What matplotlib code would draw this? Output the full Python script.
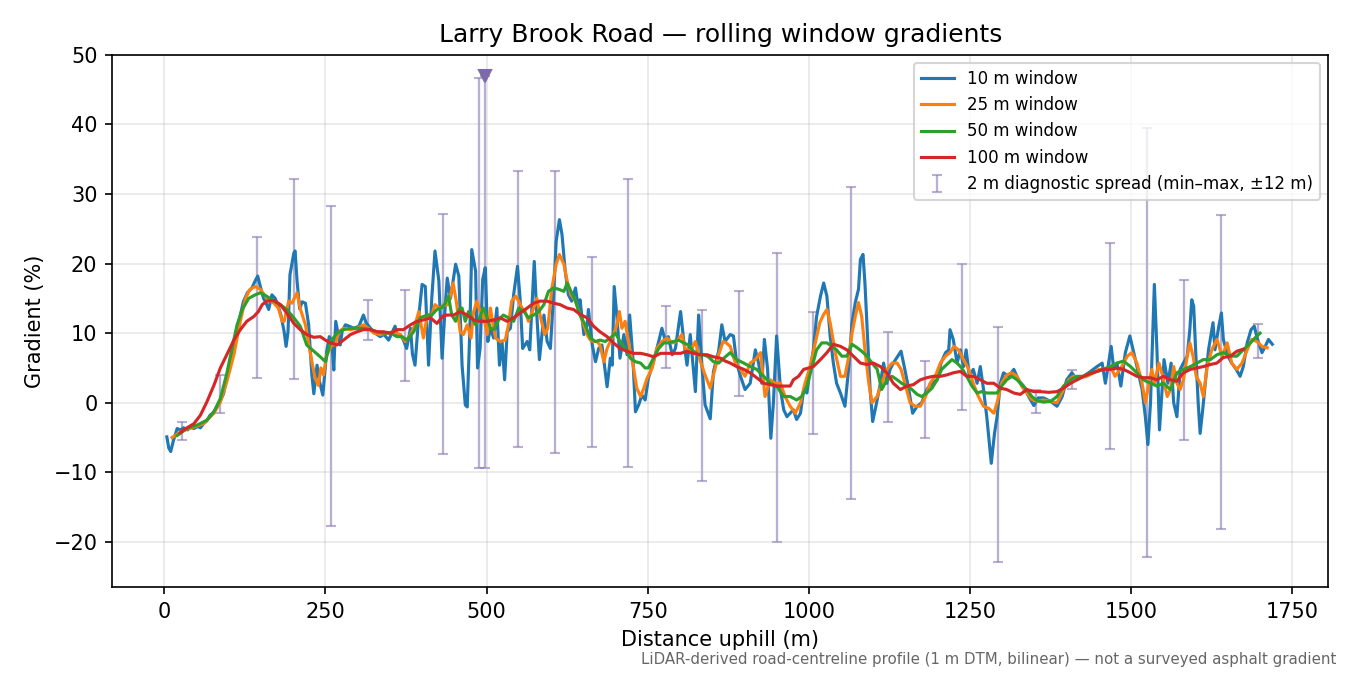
import numpy as np
import matplotlib
matplotlib.use('Agg')
import matplotlib.pyplot as plt

# 10 m window (distance m, gradient %)
w10_x = [4, 7, 10, 14, 20, 25, 30, 36, 41, 46, 52, 56, 61, 66, 71, 76, 82, 87, 92, 97,
         102, 108, 113, 118, 123, 129, 136, 141, 145, 149, 154, 158, 162, 167, 172, 176, 181, 186, 189, 192,
         195, 201, 203, 206, 210, 214, 219, 224, 229, 232, 237, 241, 246, 252, 256, 260, 263, 266, 273, 276,
         281, 287, 294, 302, 309, 313, 320, 327, 335, 341, 348, 353, 358, 362, 366, 371, 376, 382, 385, 389,
         395, 400, 405, 410, 415, 420, 426, 431, 436, 439, 444, 452, 457, 462, 467, 470, 474, 477, 483, 486,
         490, 494, 498, 502, 506, 511, 516, 520, 524, 528, 532, 537, 542, 548, 552, 556, 563, 567, 574, 578,
         582, 589, 594, 599, 604, 608, 613, 617, 622, 627, 632, 638, 643, 645, 651, 656, 658, 664, 669, 674,
         679, 687, 692, 695, 698, 702, 707, 713, 718, 722, 727, 731, 736, 741, 746, 751, 759, 767, 772, 777,
         782, 788, 793, 801, 806, 811, 816, 824, 829, 834, 839, 847, 852, 860, 865, 870, 878, 883, 888, 894,
         901, 909, 917, 922, 927, 931, 936, 941, 945, 950, 956, 961, 966, 971, 976, 981, 987, 992, 997, 1002,
         1007, 1012, 1018, 1023, 1028, 1033, 1038, 1043, 1049, 1056, 1062, 1067, 1072, 1077, 1080, 1084, 1087, 1091, 1095, 1099,
         1104, 1111, 1116, 1121, 1126, 1131, 1138, 1143, 1148, 1155, 1161, 1168, 1175, 1183, 1191, 1199, 1205, 1212, 1217, 1219,
         1224, 1230, 1235, 1240, 1244, 1249, 1255, 1261, 1266, 1271, 1276, 1280, 1283, 1288, 1292, 1297, 1302, 1310, 1318, 1325,
         1333, 1341, 1349, 1356, 1364, 1375, 1385, 1393, 1400, 1408, 1416, 1426, 1437, 1447, 1455, 1460, 1465, 1469, 1473, 1478,
         1484, 1491, 1498, 1504, 1510, 1517, 1522, 1526, 1530, 1533, 1536, 1540, 1544, 1548, 1551, 1557, 1562, 1566, 1571, 1576,
         1581, 1587, 1591, 1594, 1597, 1600, 1604, 1607, 1611, 1616, 1620, 1627, 1630, 1636, 1640, 1643, 1650, 1656, 1663, 1669,
         1674, 1680, 1686, 1691, 1696, 1703, 1708, 1713, 1719]
w10_y = [-4.9, -6.5, -7.0, -5.5, -3.7, -3.9, -3.6, -3.9, -3.5, -3.7, -3.4, -3.6, -3.0, -2.6, -1.8, -1.4, -0.6, 0.3, 1.3, 3.5,
         5.9, 7.8, 10.2, 12.6, 14.6, 15.8, 16.5, 17.5, 18.2, 16.7, 15.0, 14.3, 13.4, 15.5, 15.0, 14.1, 12.6, 10.2, 8.1, 10.2,
         18.4, 21.5, 21.8, 17.5, 13.5, 14.5, 14.3, 11.2, 4.0, 1.3, 5.4, 3.0, 1.1, 7.4, 9.5, 8.8, 4.7, 11.7, 8.3, 10.3,
         11.2, 11.0, 10.7, 11.0, 12.6, 11.5, 10.7, 10.0, 9.5, 9.8, 9.0, 10.0, 11.0, 9.5, 9.8, 9.0, 7.8, 10.7, 7.0, 5.4,
         12.6, 17.0, 16.7, 5.4, 15.0, 21.8, 17.5, 6.4, 14.1, 17.9, 15.0, 19.9, 18.2, 5.4, -0.3, -0.6, 10.2, 22.0, 18.9, 5.0,
         7.8, 17.7, 19.4, 8.8, 10.7, 9.3, 13.6, 5.4, 8.8, 3.3, 10.2, 10.7, 15.5, 19.6, 15.0, 7.8, 8.8, 7.6, 20.3, 12.6,
         6.2, 12.6, 8.8, 7.8, 15.5, 23.2, 26.3, 24.2, 18.9, 15.5, 14.6, 16.5, 13.1, 14.8, 9.8, 11.2, 13.4, 8.3, 5.9, 7.8,
         8.3, 2.3, 6.4, 5.4, 16.7, 12.6, 6.4, 9.8, 6.9, 12.6, 6.4, -1.3, -0.3, 1.1, 0.4, 3.5, 5.9, 8.8, 10.7, 9.0,
         9.5, 6.9, 7.8, 13.1, 8.8, 5.4, 9.8, 1.6, 12.6, 5.4, -0.3, -2.3, 4.5, 7.4, 11.2, 8.8, 9.8, 9.6, 5.7, 3.8,
         1.9, 2.8, 7.6, 5.7, 2.8, 9.1, 4.8, -5.1, 0.0, 9.6, 1.9, -1.0, -2.0, -1.5, -1.0, -2.4, -1.5, 1.9, 1.4, 4.8,
         7.6, 12.4, 15.3, 17.2, 15.3, 9.6, 5.7, 2.8, 1.4, -0.5, 5.2, 11.5, 14.4, 16.3, 20.6, 21.3, 17.2, 9.6, 1.9, -2.7,
         -0.5, 2.8, 5.7, 2.8, 4.8, 5.7, 6.7, 7.4, 5.2, 1.9, -1.5, -0.5, 0.0, 1.9, 2.8, 3.3, 5.7, 7.2, 7.6, 10.5,
         9.1, 5.7, 7.6, 5.2, 7.6, 3.8, 4.8, 2.8, 5.2, 1.9, -2.0, -5.8, -8.7, -4.4, -2.0, 2.8, 4.3, 3.8, 4.8, 3.3,
         2.4, 0.9, -0.4, 0.7, 0.7, 0.2, -0.5, 0.9, 3.3, 4.3, 3.3, 3.8, 4.5, 5.2, 5.7, 2.8, 5.7, 8.1, 4.8, 5.7,
         2.4, 7.2, 9.6, 7.2, 4.8, 1.9, -2.0, -6.0, 0.0, 8.6, 17.0, 7.6, -3.9, 1.9, 6.2, 2.8, 5.7, 0.0, -2.0, 4.8,
         5.7, 6.7, 10.5, 14.8, 13.9, 7.6, 0.0, -4.4, -1.0, 3.8, 7.6, 11.5, 7.6, 11.0, 12.9, 9.1, 6.7, 5.7, 4.8, 3.8,
         5.2, 8.6, 10.5, 11.0, 9.1, 7.2, 8.1, 9.1, 8.4]

# 25 m window
w25_x = [12, 25, 35, 46, 61, 77, 87, 97, 108, 118, 126, 133, 141, 149, 159, 170, 177, 183, 186, 193,
         198, 206, 211, 219, 227, 234, 239, 243, 247, 252, 260, 265, 271, 278, 289, 299, 309, 317, 325, 335,
         345, 356, 366, 374, 382, 389, 395, 402, 408, 415, 420, 428, 433, 441, 448, 453, 459, 464, 470, 476,
         480, 485, 490, 495, 501, 506, 510, 514, 521, 529, 534, 539, 545, 550, 555, 560, 565, 573, 578, 583,
         590, 595, 601, 608, 613, 620, 625, 631, 638, 645, 651, 656, 661, 666, 671, 676, 682, 687, 692, 697,
         702, 706, 710, 715, 720, 728, 733, 739, 744, 749, 757, 764, 772, 780, 788, 795, 803, 808, 816, 824,
         832, 839, 847, 852, 860, 867, 872, 878, 886, 894, 901, 909, 917, 925, 932, 940, 948, 956, 963, 971,
         979, 987, 994, 1002, 1010, 1017, 1023, 1028, 1033, 1041, 1049, 1056, 1062, 1067, 1072, 1077, 1082, 1087, 1093, 1098,
         1106, 1113, 1121, 1129, 1137, 1143, 1149, 1157, 1165, 1173, 1181, 1188, 1196, 1204, 1212, 1219, 1225, 1232, 1240, 1248,
         1255, 1263, 1271, 1279, 1287, 1292, 1299, 1307, 1315, 1323, 1330, 1338, 1346, 1354, 1364, 1375, 1385, 1395, 1403, 1411,
         1421, 1431, 1442, 1450, 1457, 1468, 1475, 1483, 1494, 1501, 1509, 1517, 1522, 1527, 1532, 1536, 1543, 1549, 1556, 1561,
         1566, 1571, 1576, 1581, 1587, 1591, 1596, 1601, 1607, 1612, 1618, 1625, 1633, 1641, 1649, 1656, 1664, 1672, 1680, 1687,
         1695, 1703, 1711]
w25_y = [-5.0, -4.2, -3.8, -3.5, -3.0, -1.5, 0.1, 3.0, 6.9, 11.7, 15.0, 16.3, 16.7, 16.3, 15.0, 14.3, 13.6, 11.7, 11.7, 14.6,
         14.3, 15.8, 13.5, 11.2, 6.9, 3.5, 2.5, 5.0, 4.0, 6.9, 8.3, 8.3, 10.2, 10.7, 10.5, 10.7, 11.2, 10.7, 10.0, 9.8,
         10.0, 10.2, 9.8, 8.8, 9.8, 11.2, 13.1, 9.3, 12.6, 12.6, 14.1, 13.5, 14.0, 14.1, 17.2, 14.6, 10.2, 9.8, 11.2, 9.3,
         13.1, 14.6, 13.1, 12.6, 9.8, 13.6, 11.2, 9.3, 8.8, 9.0, 11.2, 14.6, 15.3, 14.6, 13.6, 13.1, 11.7, 13.6, 15.0, 12.6,
         9.8, 10.7, 16.3, 19.9, 21.3, 19.9, 17.5, 15.5, 14.6, 12.6, 11.2, 9.8, 9.0, 8.8, 8.8, 8.3, 5.9, 7.8, 8.8, 9.8,
         11.2, 13.1, 10.7, 11.7, 8.8, 5.0, 2.1, 0.9, 2.1, 3.5, 5.0, 7.8, 8.8, 9.3, 8.6, 8.8, 9.8, 7.8, 7.4, 8.8,
         5.9, 4.0, 2.1, 4.0, 6.9, 8.8, 8.6, 8.1, 5.7, 4.8, 3.8, 5.7, 6.2, 7.2, 0.9, 3.3, 2.8, 2.8, 0.9, -0.5,
         -1.5, 0.0, 2.8, 5.2, 8.6, 11.5, 12.7, 13.4, 11.5, 7.2, 3.8, 3.8, 6.7, 10.0, 12.4, 14.4, 12.4, 7.6, 2.8, 0.0,
         0.9, 2.8, 4.8, 5.7, 5.7, 4.8, 2.8, 0.0, -0.5, -0.5, 0.9, 2.8, 3.8, 5.7, 6.7, 7.2, 8.1, 7.6, 6.2, 4.8,
         2.8, 0.9, -0.5, -0.8, -1.5, 0.0, 2.8, 4.0, 4.3, 3.8, 2.4, 1.4, 0.5, 0.2, 0.4, 0.2, 0.0, 1.9, 3.3, 3.8,
         3.6, 3.8, 4.3, 4.8, 4.8, 5.2, 3.8, 4.8, 6.7, 7.2, 5.7, 2.8, 0.0, 2.4, 4.8, 2.8, 5.7, 3.8, 0.9, 1.9,
         5.2, 2.8, 1.9, 3.3, 6.7, 8.6, 6.7, 3.8, 2.8, 0.9, 5.2, 7.6, 9.1, 6.7, 8.6, 5.7, 4.8, 5.7, 7.6, 9.1,
         8.8, 8.1, 7.9]

# 50 m window
w50_x = [20, 35, 51, 66, 77, 87, 97, 105, 113, 121, 131, 141, 149, 159, 170, 180, 190, 201, 211, 221,
         232, 242, 250, 258, 268, 278, 289, 299, 309, 320, 330, 340, 351, 361, 369, 376, 387, 397, 408, 415,
         423, 430, 436, 441, 446, 452, 457, 462, 467, 472, 477, 483, 489, 495, 501, 506, 511, 519, 526, 534,
         542, 550, 558, 565, 573, 581, 589, 596, 604, 612, 620, 625, 631, 638, 645, 653, 661, 669, 676, 684,
         692, 700, 707, 715, 723, 731, 739, 746, 751, 759, 767, 775, 782, 790, 798, 806, 813, 821, 829, 837,
         844, 852, 860, 868, 878, 888, 899, 909, 919, 930, 940, 950, 961, 971, 981, 989, 997, 1005, 1012, 1020,
         1028, 1036, 1043, 1051, 1059, 1067, 1075, 1082, 1090, 1098, 1106, 1113, 1121, 1129, 1137, 1144, 1152, 1160, 1168, 1175,
         1183, 1191, 1199, 1206, 1214, 1222, 1230, 1237, 1245, 1253, 1261, 1268, 1276, 1284, 1292, 1299, 1307, 1315, 1323, 1330,
         1338, 1346, 1354, 1364, 1375, 1385, 1395, 1406, 1416, 1426, 1437, 1447, 1457, 1468, 1478, 1488, 1499, 1509, 1519, 1530,
         1540, 1550, 1561, 1571, 1581, 1592, 1602, 1612, 1623, 1633, 1643, 1654, 1664, 1674, 1685, 1695, 1700]
w50_y = [-4.7, -3.7, -3.2, -2.5, -1.3, 0.6, 4.2, 7.8, 11.2, 13.4, 15.0, 15.5, 15.8, 15.3, 14.6, 14.1, 13.4, 12.2, 11.0, 8.3,
         7.4, 6.6, 5.9, 8.8, 10.0, 10.5, 10.7, 10.7, 10.7, 10.5, 10.2, 10.0, 10.0, 9.5, 9.5, 9.0, 10.2, 12.2, 12.6, 12.6,
         13.4, 13.6, 14.3, 15.3, 12.6, 11.7, 13.4, 13.6, 11.7, 13.1, 12.2, 11.2, 12.2, 13.6, 12.2, 10.7, 10.5, 11.9, 12.6, 12.2,
         11.7, 13.6, 13.1, 12.2, 12.6, 13.1, 14.1, 16.0, 16.5, 16.3, 16.0, 17.2, 16.0, 14.6, 12.6, 11.2, 9.3, 8.8, 9.0, 8.8,
         9.3, 10.0, 8.8, 7.8, 6.4, 5.9, 5.7, 5.0, 5.0, 6.4, 7.8, 8.6, 8.6, 8.8, 9.0, 8.6, 8.3, 7.4, 6.9, 6.9,
         6.6, 5.9, 5.7, 6.4, 7.2, 6.2, 5.7, 5.2, 4.8, 3.8, 2.8, 2.4, 0.9, 0.9, 0.4, 0.9, 2.4, 5.2, 7.6, 8.6,
         8.6, 8.1, 7.6, 6.7, 6.7, 8.4, 7.9, 7.4, 6.7, 5.7, 4.8, 1.9, 3.3, 3.8, 3.3, 2.8, 2.4, 1.9, 1.2, 0.9,
         1.4, 2.1, 3.3, 4.8, 5.5, 6.2, 5.7, 5.0, 3.8, 2.4, 1.4, 1.6, 1.4, 1.4, 1.4, 2.4, 3.3, 3.8, 3.3, 2.6,
         1.9, 0.9, 0.3, 0.1, 0.2, 0.9, 2.4, 3.3, 3.8, 3.8, 4.3, 4.5, 4.8, 5.2, 5.7, 6.0, 5.2, 4.3, 3.3, 2.8,
         2.4, 2.8, 1.9, 4.3, 4.8, 5.2, 5.7, 6.2, 6.2, 6.9, 7.2, 6.7, 6.7, 7.6, 8.6, 9.6, 10.0]

# 100 m window
w100_x = [25, 30, 46, 56, 66, 77, 87, 97, 108, 118, 128, 139, 146, 152, 159, 170, 180, 190, 201, 211,
          221, 232, 242, 250, 258, 268, 278, 289, 299, 309, 320, 330, 340, 351, 361, 371, 382, 392, 402, 413,
          423, 433, 439, 449, 459, 470, 480, 490, 501, 511, 521, 532, 542, 552, 563, 573, 583, 594, 604, 614,
          625, 635, 645, 656, 666, 676, 687, 697, 707, 718, 728, 739, 749, 759, 770, 780, 790, 801, 811, 821,
          832, 842, 852, 863, 870, 878, 888, 899, 909, 919, 930, 940, 950, 961, 971, 976, 984, 992, 1000, 1007,
          1018, 1028, 1038, 1049, 1059, 1069, 1080, 1090, 1100, 1111, 1121, 1131, 1142, 1152, 1162, 1173, 1183, 1193, 1204, 1214,
          1224, 1235, 1245, 1255, 1266, 1276, 1287, 1297, 1307, 1318, 1328, 1338, 1349, 1359, 1372, 1385, 1395, 1406, 1416, 1426,
          1437, 1447, 1457, 1468, 1478, 1488, 1499, 1509, 1519, 1530, 1540, 1550, 1561, 1571, 1581, 1592, 1602, 1612, 1623, 1633,
          1643, 1654, 1664, 1674]
w100_y = [-4.3, -3.9, -3.0, -1.8, 0.1, 2.5, 5.0, 6.9, 9.0, 10.5, 11.7, 12.4, 13.1, 14.1, 14.6, 14.7, 14.1, 12.9, 11.4, 10.5,
          9.8, 9.4, 9.5, 9.0, 8.6, 8.3, 9.0, 9.8, 10.2, 10.5, 10.5, 10.2, 10.2, 10.0, 10.5, 10.5, 11.2, 11.7, 11.9, 12.2,
          11.4, 12.5, 12.6, 12.6, 13.1, 12.6, 11.9, 11.7, 11.7, 11.9, 12.2, 11.7, 12.2, 12.9, 13.6, 14.3, 14.6, 14.6, 14.3, 14.1,
          13.6, 13.4, 12.7, 12.2, 11.0, 10.2, 9.5, 8.6, 7.8, 7.4, 7.1, 7.1, 6.9, 6.6, 7.1, 7.1, 7.1, 7.1, 7.4, 7.1,
          6.9, 6.9, 6.6, 6.4, 6.0, 5.7, 5.2, 4.8, 4.3, 3.6, 2.8, 2.6, 2.4, 2.4, 2.4, 3.3, 3.8, 4.8, 5.0, 5.2,
          6.2, 7.2, 8.4, 8.1, 7.6, 6.7, 5.7, 5.5, 5.7, 5.2, 4.3, 2.8, 1.9, 2.4, 2.6, 3.3, 3.6, 3.8, 3.8, 4.0,
          4.3, 4.5, 3.8, 3.8, 3.3, 2.8, 2.8, 2.1, 1.9, 1.4, 1.2, 1.9, 1.6, 1.6, 1.5, 1.6, 2.1, 2.8, 3.3, 3.8,
          4.2, 4.5, 4.8, 4.8, 5.0, 4.8, 4.3, 3.8, 3.6, 3.6, 3.3, 3.8, 3.3, 3.1, 4.3, 4.8, 5.0, 5.2, 5.5, 5.7,
          6.5, 6.7, 7.4, 7.7]

# 2 m diagnostic spread (min / max within +-12 m)
diag_x = [28, 86, 144, 202, 259, 316, 374, 432, 489, 498, 548, 606, 663, 720, 778, 835, 892, 950, 1007, 1065,
          1123, 1180, 1237, 1294, 1352, 1409, 1467, 1525, 1582, 1640, 1697]
diag_lo = [-5.3, -1.5, 3.5, 3.4, -17.7, 9.0, 3.1, -7.3, -9.3, -9.3, -6.4, -7.2, -6.4, -9.2, 5.0, -11.2, 0.9, -20.0, -4.5, -13.8,
           -2.7, -5.1, -1.1, -22.9, -1.5, 2.0, -6.7, -22.2, -5.4, -18.2, 6.5]
diag_hi = [-2.8, 4.0, 23.8, 32.2, 28.2, 14.8, 16.2, 27.1, 46.6, 47.0, 33.3, 33.3, 21.0, 32.1, 13.9, 13.3, 16.0, 21.5, 13.0, 31.0,
           10.1, 6.0, 20.0, 10.9, 1.8, 4.75, 22.9, 39.4, 17.6, 26.9, 11.3]
clip_x = [498]
clip_y = [47.0]

fig, ax = plt.subplots(figsize=(9, 4.5), dpi=150)
fig.subplots_adjust(left=0.083, right=0.984, top=0.919, bottom=0.130)

lo = np.array(diag_lo)
hi = np.array(diag_hi)
mid = (lo + hi) / 2
ax.errorbar(diag_x, mid, yerr=(hi - lo) / 2, fmt='none', ecolor='#8a7bb5', alpha=0.6,
            elinewidth=1.1, capsize=2.5, zorder=1, label='2 m diagnostic spread (min–max, ±12 m)')
ax.plot(clip_x, clip_y, 'v', color='#7d6aa8', markersize=6, zorder=3)

ax.plot(w10_x, w10_y, color='C0', lw=1.5, label='10 m window', zorder=2)
ax.plot(w25_x, w25_y, color='C1', lw=1.5, label='25 m window', zorder=2)
ax.plot(w50_x, w50_y, color='C2', lw=1.5, label='50 m window', zorder=2)
ax.plot(w100_x, w100_y, color='C3', lw=1.5, label='100 m window', zorder=2)

ax.set_xlim(-81, 1806)
ax.set_ylim(-26.5, 50)
ax.grid(True, alpha=0.3)
ax.set_xlabel('Distance uphill (m)')
ax.set_ylabel('Gradient (%)')
ax.set_title('Larry Brook Road — rolling window gradients')
ax.legend(loc='upper right', fontsize=8)

fig.text(0.99, 0.012, 'LiDAR-derived road-centreline profile (1 m DTM, bilinear) — not a surveyed asphalt gradient',
         ha='right', va='bottom', fontsize=7.2, color='0.4')

fig.savefig('out.png', dpi=150)
